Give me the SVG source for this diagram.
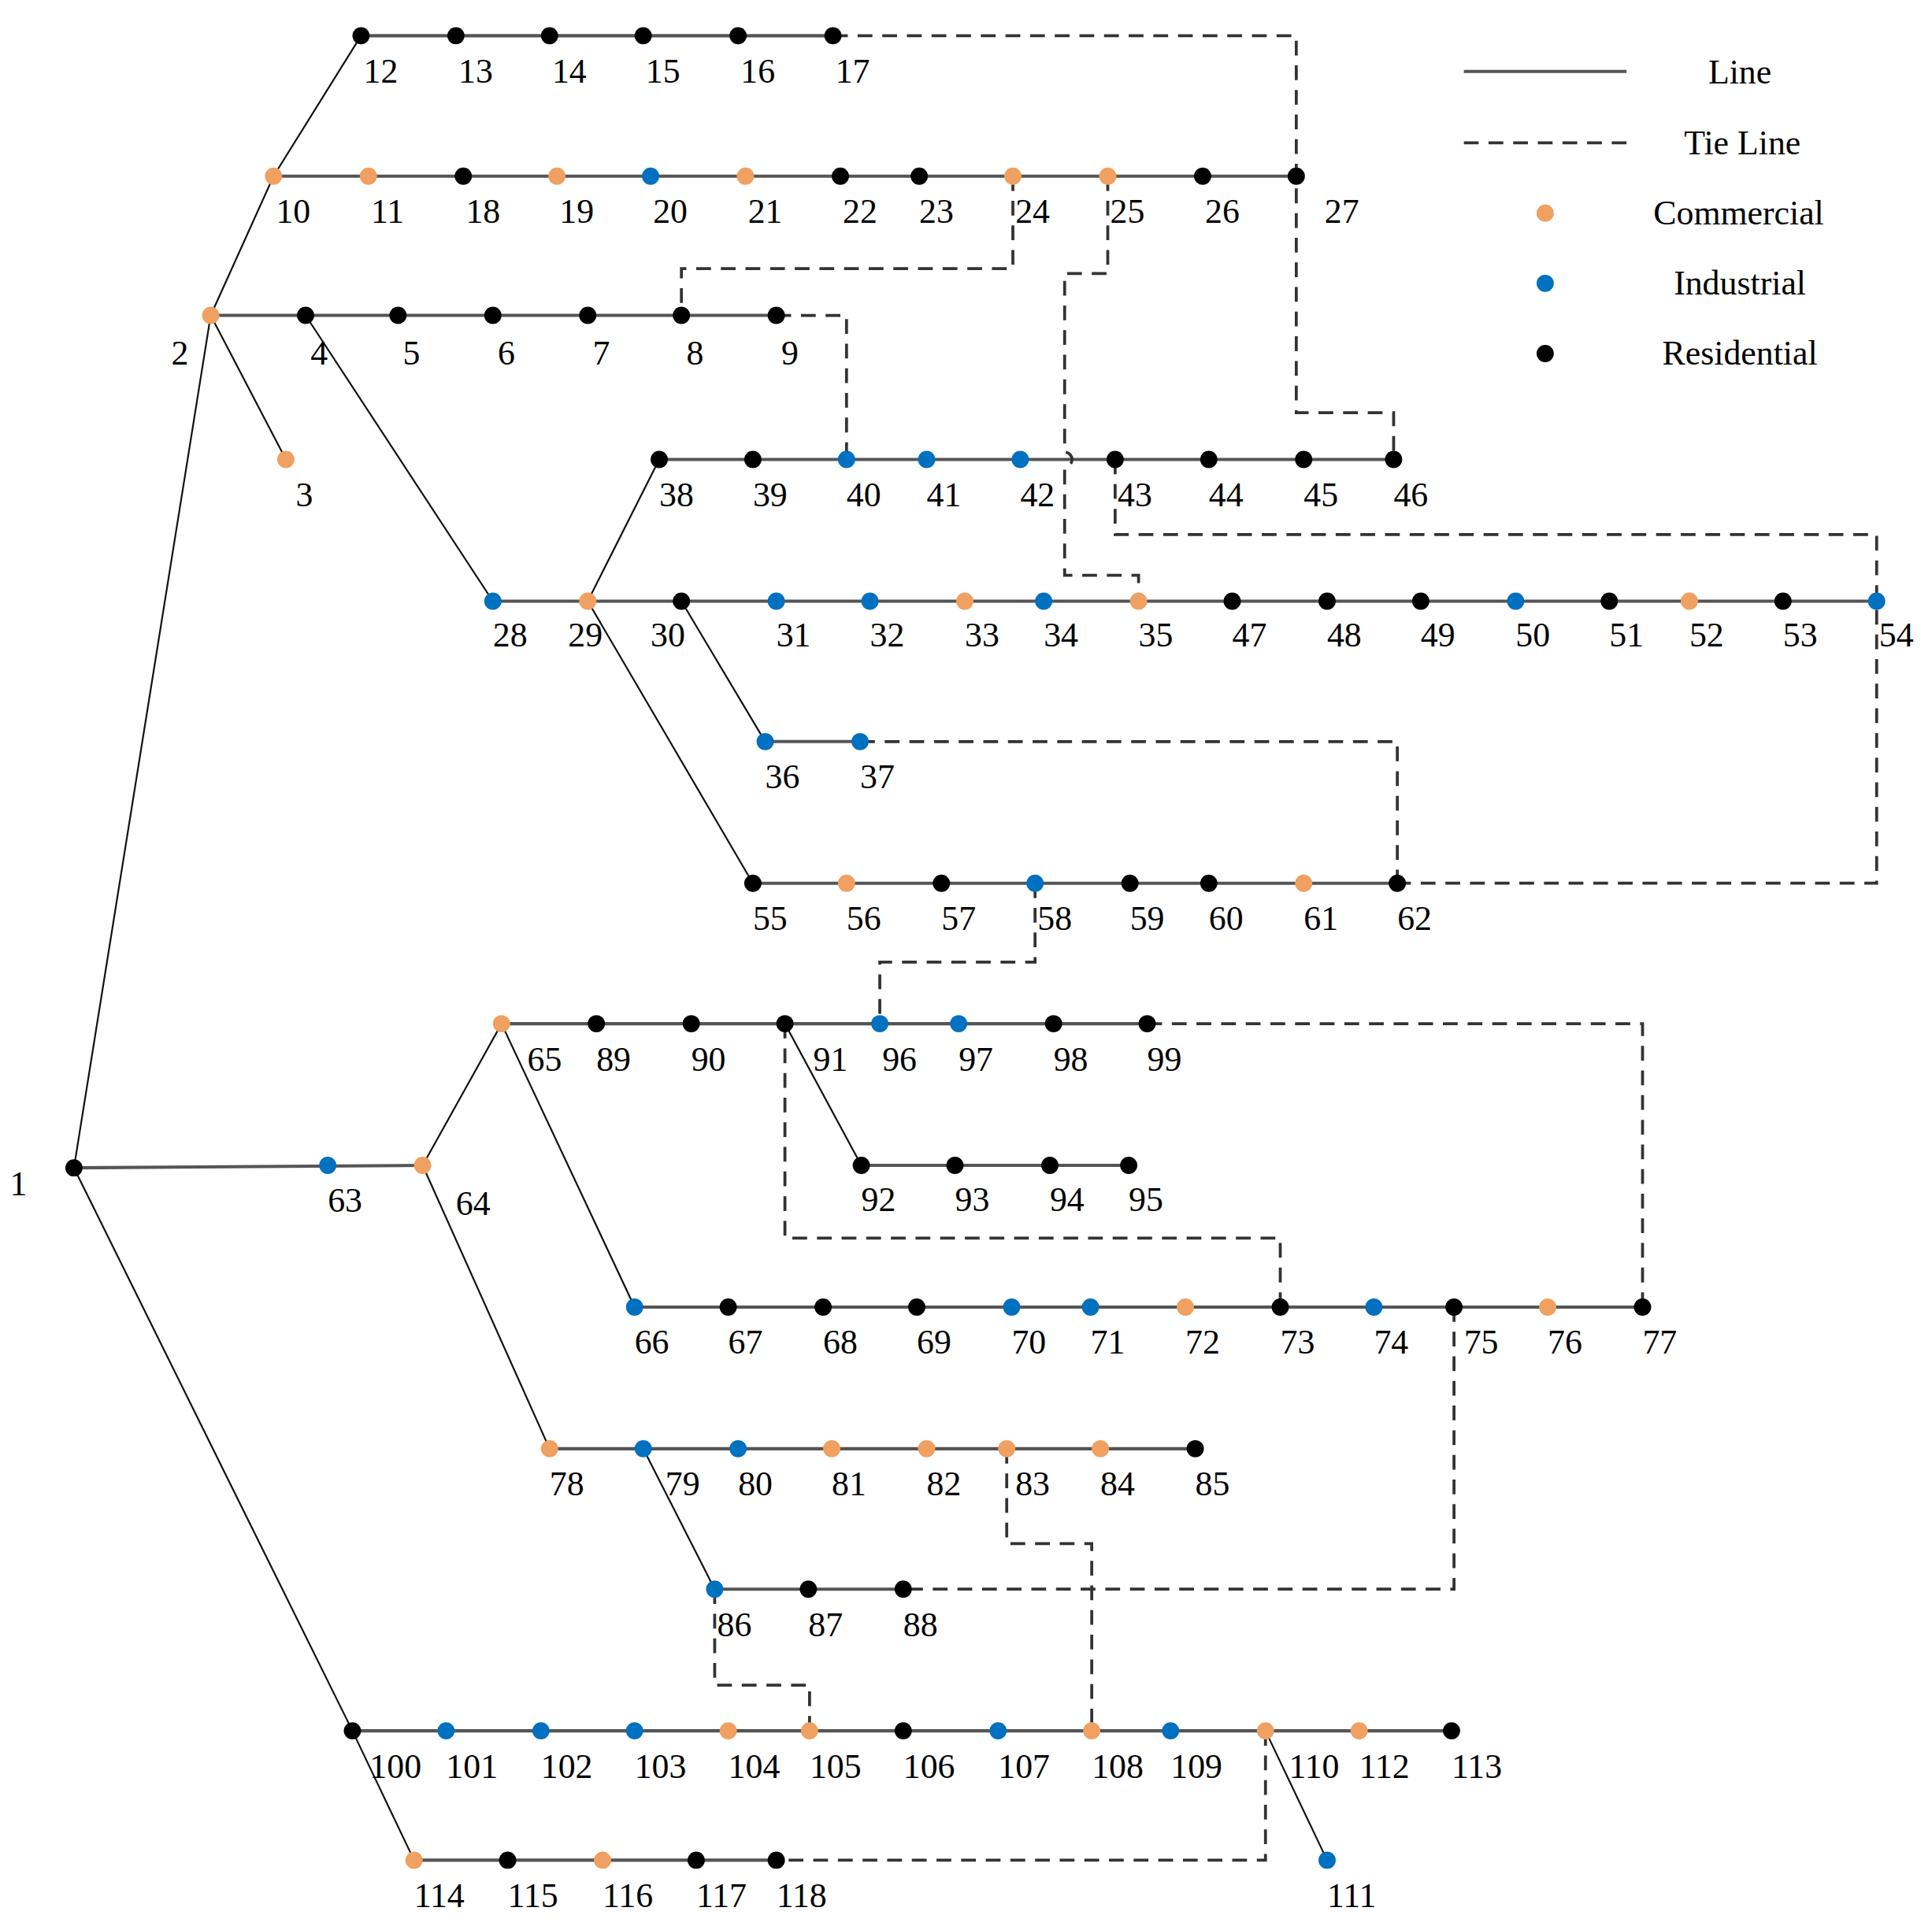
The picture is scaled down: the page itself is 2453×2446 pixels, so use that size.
<svg xmlns="http://www.w3.org/2000/svg" width="2453" height="2446" viewBox="0 0 2453 2446">
<style>
.r{stroke:#555;stroke-width:2.6;fill:none}
.d{stroke:#111;stroke-width:1.4;fill:none}
.t{stroke:#333;stroke-width:2.4;fill:none;stroke-dasharray:12 8}
.c{fill:#F0A060}.i{fill:#0070C0}.k{fill:#000}
text{font-family:"Liberation Serif","Times New Roman",serif;font-size:28px;fill:#000}
</style>
<rect width="2453" height="2446" fill="#fff"/>
<g transform="scale(1.5645)">
<g id="connectors">
<path class="r" d="M293,29H676M222,143H1052M171,256H630M535,373H1131M400,488H1523M621,602H698M611,717H1134M407,831H931M699,946H916M60,948L343,946M515,1061H1333M446,1176H970M580,1290H733M286,1405H1178M336,1510H630"/>
<path class="d" d="M60,948L171,256M171,256L222,143L293,29M171,256L232,373M248,256L400,488M477,488L535,373M477,488L611,717M553,488L621,602M343,946L407,831L515,1061M637,831L699,946M343,946L446,1176M522,1176L580,1290M60,948L286,1405L336,1510M1027,1405L1077,1510"/>
<path class="t" d="M676,29H1052V335H1131V373"/>
<path class="t" d="M822,143V218H553V256"/>
<path class="t" d="M899,143V222H864V367A5,5 0 0 1 864,379V467H924V488"/>
<path class="t" d="M630,256H687V373"/>
<path class="t" d="M905,373V434H1523V717H1134"/>
<path class="t" d="M698,602H1134V717"/>
<path class="t" d="M840,717V781H714V831"/>
<path class="t" d="M931,831H1333V1061"/>
<path class="t" d="M637,831V1005H1039V1061"/>
<path class="t" d="M1180,1061V1290H733"/>
<path class="t" d="M817,1176V1253H886V1405"/>
<path class="t" d="M580,1290V1368H657V1405"/>
<path class="t" d="M1027,1405V1510H630"/>
</g>
<g id="nodes">
<g id="n1"><circle class="k" cx="60" cy="948" r="7"/><text x="8" y="970">1</text></g>
<g id="n2"><circle class="c" cx="171" cy="256" r="7"/><text x="139" y="296">2</text></g>
<g id="n3"><circle class="c" cx="232" cy="373" r="7"/><text x="240" y="411">3</text></g>
<g id="n4"><circle class="k" cx="248" cy="256" r="7"/><text x="252" y="296">4</text></g>
<g id="n5"><circle class="k" cx="323" cy="256" r="7"/><text x="327" y="296">5</text></g>
<g id="n6"><circle class="k" cx="400" cy="256" r="7"/><text x="404" y="296">6</text></g>
<g id="n7"><circle class="k" cx="477" cy="256" r="7"/><text x="481" y="296">7</text></g>
<g id="n8"><circle class="k" cx="553" cy="256" r="7"/><text x="557" y="296">8</text></g>
<g id="n9"><circle class="k" cx="630" cy="256" r="7"/><text x="634" y="296">9</text></g>
<g id="n10"><circle class="c" cx="222" cy="143" r="7"/><text x="224" y="181">10</text></g>
<g id="n11"><circle class="c" cx="299" cy="143" r="7"/><text x="301" y="181">11</text></g>
<g id="n12"><circle class="k" cx="293" cy="29" r="7"/><text x="295" y="67">12</text></g>
<g id="n13"><circle class="k" cx="370" cy="29" r="7"/><text x="372" y="67">13</text></g>
<g id="n14"><circle class="k" cx="446" cy="29" r="7"/><text x="448" y="67">14</text></g>
<g id="n15"><circle class="k" cx="522" cy="29" r="7"/><text x="524" y="67">15</text></g>
<g id="n16"><circle class="k" cx="599" cy="29" r="7"/><text x="601" y="67">16</text></g>
<g id="n17"><circle class="k" cx="676" cy="29" r="7"/><text x="678" y="67">17</text></g>
<g id="n18"><circle class="k" cx="376" cy="143" r="7"/><text x="378" y="181">18</text></g>
<g id="n19"><circle class="c" cx="452" cy="143" r="7"/><text x="454" y="181">19</text></g>
<g id="n20"><circle class="i" cx="528" cy="143" r="7"/><text x="530" y="181">20</text></g>
<g id="n21"><circle class="c" cx="605" cy="143" r="7"/><text x="607" y="181">21</text></g>
<g id="n22"><circle class="k" cx="682" cy="143" r="7"/><text x="684" y="181">22</text></g>
<g id="n23"><circle class="k" cx="746" cy="143" r="7"/><text x="746" y="181">23</text></g>
<g id="n24"><circle class="c" cx="822" cy="143" r="7"/><text x="824" y="181">24</text></g>
<g id="n25"><circle class="c" cx="899" cy="143" r="7"/><text x="901" y="181">25</text></g>
<g id="n26"><circle class="k" cx="976" cy="143" r="7"/><text x="978" y="181">26</text></g>
<g id="n27"><circle class="k" cx="1052" cy="143" r="7"/><text x="1075" y="181">27</text></g>
<g id="n28"><circle class="i" cx="400" cy="488" r="7"/><text x="400" y="525">28</text></g>
<g id="n29"><circle class="c" cx="477" cy="488" r="7"/><text x="461" y="525">29</text></g>
<g id="n30"><circle class="k" cx="553" cy="488" r="7"/><text x="528" y="525">30</text></g>
<g id="n31"><circle class="i" cx="630" cy="488" r="7"/><text x="630" y="525">31</text></g>
<g id="n32"><circle class="i" cx="706" cy="488" r="7"/><text x="706" y="525">32</text></g>
<g id="n33"><circle class="c" cx="783" cy="488" r="7"/><text x="783" y="525">33</text></g>
<g id="n34"><circle class="i" cx="847" cy="488" r="7"/><text x="847" y="525">34</text></g>
<g id="n35"><circle class="c" cx="924" cy="488" r="7"/><text x="924" y="525">35</text></g>
<g id="n36"><circle class="i" cx="621" cy="602" r="7"/><text x="621" y="640">36</text></g>
<g id="n37"><circle class="i" cx="698" cy="602" r="7"/><text x="698" y="640">37</text></g>
<g id="n38"><circle class="k" cx="535" cy="373" r="7"/><text x="535" y="411">38</text></g>
<g id="n39"><circle class="k" cx="611" cy="373" r="7"/><text x="611" y="411">39</text></g>
<g id="n40"><circle class="i" cx="687" cy="373" r="7"/><text x="687" y="411">40</text></g>
<g id="n41"><circle class="i" cx="752" cy="373" r="7"/><text x="752" y="411">41</text></g>
<g id="n42"><circle class="i" cx="828" cy="373" r="7"/><text x="828" y="411">42</text></g>
<g id="n43"><circle class="k" cx="905" cy="373" r="7"/><text x="907" y="411">43</text></g>
<g id="n44"><circle class="k" cx="981" cy="373" r="7"/><text x="981" y="411">44</text></g>
<g id="n45"><circle class="k" cx="1058" cy="373" r="7"/><text x="1058" y="411">45</text></g>
<g id="n46"><circle class="k" cx="1131" cy="373" r="7"/><text x="1131" y="411">46</text></g>
<g id="n47"><circle class="k" cx="1000" cy="488" r="7"/><text x="1000" y="525">47</text></g>
<g id="n48"><circle class="k" cx="1077" cy="488" r="7"/><text x="1077" y="525">48</text></g>
<g id="n49"><circle class="k" cx="1153" cy="488" r="7"/><text x="1153" y="525">49</text></g>
<g id="n50"><circle class="i" cx="1230" cy="488" r="7"/><text x="1230" y="525">50</text></g>
<g id="n51"><circle class="k" cx="1306" cy="488" r="7"/><text x="1306" y="525">51</text></g>
<g id="n52"><circle class="c" cx="1371" cy="488" r="7"/><text x="1371" y="525">52</text></g>
<g id="n53"><circle class="k" cx="1447" cy="488" r="7"/><text x="1447" y="525">53</text></g>
<g id="n54"><circle class="i" cx="1523" cy="488" r="7"/><text x="1525" y="525">54</text></g>
<g id="n55"><circle class="k" cx="611" cy="717" r="7"/><text x="611" y="755">55</text></g>
<g id="n56"><circle class="c" cx="687" cy="717" r="7"/><text x="687" y="755">56</text></g>
<g id="n57"><circle class="k" cx="764" cy="717" r="7"/><text x="764" y="755">57</text></g>
<g id="n58"><circle class="i" cx="840" cy="717" r="7"/><text x="842" y="755">58</text></g>
<g id="n59"><circle class="k" cx="917" cy="717" r="7"/><text x="917" y="755">59</text></g>
<g id="n60"><circle class="k" cx="981" cy="717" r="7"/><text x="981" y="755">60</text></g>
<g id="n61"><circle class="c" cx="1058" cy="717" r="7"/><text x="1058" y="755">61</text></g>
<g id="n62"><circle class="k" cx="1134" cy="717" r="7"/><text x="1134" y="755">62</text></g>
<g id="n63"><circle class="i" cx="266" cy="946" r="7"/><text x="266" y="984">63</text></g>
<g id="n64"><circle class="c" cx="343" cy="946" r="7"/><text x="370" y="986">64</text></g>
<g id="n65"><circle class="c" cx="407" cy="831" r="7"/><text x="428" y="869">65</text></g>
<g id="n66"><circle class="i" cx="515" cy="1061" r="7"/><text x="515" y="1099">66</text></g>
<g id="n67"><circle class="k" cx="591" cy="1061" r="7"/><text x="591" y="1099">67</text></g>
<g id="n68"><circle class="k" cx="668" cy="1061" r="7"/><text x="668" y="1099">68</text></g>
<g id="n69"><circle class="k" cx="744" cy="1061" r="7"/><text x="744" y="1099">69</text></g>
<g id="n70"><circle class="i" cx="821" cy="1061" r="7"/><text x="821" y="1099">70</text></g>
<g id="n71"><circle class="i" cx="885" cy="1061" r="7"/><text x="885" y="1099">71</text></g>
<g id="n72"><circle class="c" cx="962" cy="1061" r="7"/><text x="962" y="1099">72</text></g>
<g id="n73"><circle class="k" cx="1039" cy="1061" r="7"/><text x="1039" y="1099">73</text></g>
<g id="n74"><circle class="i" cx="1115" cy="1061" r="7"/><text x="1115" y="1099">74</text></g>
<g id="n75"><circle class="k" cx="1180" cy="1061" r="7"/><text x="1188" y="1099">75</text></g>
<g id="n76"><circle class="c" cx="1256" cy="1061" r="7"/><text x="1256" y="1099">76</text></g>
<g id="n77"><circle class="k" cx="1333" cy="1061" r="7"/><text x="1333" y="1099">77</text></g>
<g id="n78"><circle class="c" cx="446" cy="1176" r="7"/><text x="446" y="1214">78</text></g>
<g id="n79"><circle class="i" cx="522" cy="1176" r="7"/><text x="540" y="1214">79</text></g>
<g id="n80"><circle class="i" cx="599" cy="1176" r="7"/><text x="599" y="1214">80</text></g>
<g id="n81"><circle class="c" cx="675" cy="1176" r="7"/><text x="675" y="1214">81</text></g>
<g id="n82"><circle class="c" cx="752" cy="1176" r="7"/><text x="752" y="1214">82</text></g>
<g id="n83"><circle class="c" cx="817" cy="1176" r="7"/><text x="824" y="1214">83</text></g>
<g id="n84"><circle class="c" cx="893" cy="1176" r="7"/><text x="893" y="1214">84</text></g>
<g id="n85"><circle class="k" cx="970" cy="1176" r="7"/><text x="970" y="1214">85</text></g>
<g id="n86"><circle class="i" cx="580" cy="1290" r="7"/><text x="582" y="1328">86</text></g>
<g id="n87"><circle class="k" cx="656" cy="1290" r="7"/><text x="656" y="1328">87</text></g>
<g id="n88"><circle class="k" cx="733" cy="1290" r="7"/><text x="733" y="1328">88</text></g>
<g id="n89"><circle class="k" cx="484" cy="831" r="7"/><text x="484" y="869">89</text></g>
<g id="n90"><circle class="k" cx="561" cy="831" r="7"/><text x="561" y="869">90</text></g>
<g id="n91"><circle class="k" cx="637" cy="831" r="7"/><text x="660" y="869">91</text></g>
<g id="n92"><circle class="k" cx="699" cy="946" r="7"/><text x="699" y="983">92</text></g>
<g id="n93"><circle class="k" cx="775" cy="946" r="7"/><text x="775" y="983">93</text></g>
<g id="n94"><circle class="k" cx="852" cy="946" r="7"/><text x="852" y="983">94</text></g>
<g id="n95"><circle class="k" cx="916" cy="946" r="7"/><text x="916" y="983">95</text></g>
<g id="n96"><circle class="i" cx="714" cy="831" r="7"/><text x="716" y="869">96</text></g>
<g id="n97"><circle class="i" cx="778" cy="831" r="7"/><text x="778" y="869">97</text></g>
<g id="n98"><circle class="k" cx="855" cy="831" r="7"/><text x="855" y="869">98</text></g>
<g id="n99"><circle class="k" cx="931" cy="831" r="7"/><text x="931" y="869">99</text></g>
<g id="n100"><circle class="k" cx="286" cy="1405" r="7"/><text x="300" y="1443">100</text></g>
<g id="n101"><circle class="i" cx="362" cy="1405" r="7"/><text x="362" y="1443">101</text></g>
<g id="n102"><circle class="i" cx="439" cy="1405" r="7"/><text x="439" y="1443">102</text></g>
<g id="n103"><circle class="i" cx="515" cy="1405" r="7"/><text x="515" y="1443">103</text></g>
<g id="n104"><circle class="c" cx="591" cy="1405" r="7"/><text x="591" y="1443">104</text></g>
<g id="n105"><circle class="c" cx="657" cy="1405" r="7"/><text x="657" y="1443">105</text></g>
<g id="n106"><circle class="k" cx="733" cy="1405" r="7"/><text x="733" y="1443">106</text></g>
<g id="n107"><circle class="i" cx="810" cy="1405" r="7"/><text x="810" y="1443">107</text></g>
<g id="n108"><circle class="c" cx="886" cy="1405" r="7"/><text x="886" y="1443">108</text></g>
<g id="n109"><circle class="i" cx="950" cy="1405" r="7"/><text x="950" y="1443">109</text></g>
<g id="n110"><circle class="c" cx="1027" cy="1405" r="7"/><text x="1046" y="1443">110</text></g>
<g id="n111"><circle class="i" cx="1077" cy="1510" r="7"/><text x="1077" y="1548">111</text></g>
<g id="n112"><circle class="c" cx="1103" cy="1405" r="7"/><text x="1103" y="1443">112</text></g>
<g id="n113"><circle class="k" cx="1178" cy="1405" r="7"/><text x="1178" y="1443">113</text></g>
<g id="n114"><circle class="c" cx="336" cy="1510" r="7"/><text x="336" y="1548">114</text></g>
<g id="n115"><circle class="k" cx="412" cy="1510" r="7"/><text x="412" y="1548">115</text></g>
<g id="n116"><circle class="c" cx="489" cy="1510" r="7"/><text x="489" y="1548">116</text></g>
<g id="n117"><circle class="k" cx="565" cy="1510" r="7"/><text x="565" y="1548">117</text></g>
<g id="n118"><circle class="k" cx="630" cy="1510" r="7"/><text x="630" y="1548">118</text></g>
</g>
<g id="legend" text-anchor="middle">
<line class="r" x1="1188" y1="58" x2="1320" y2="58"/>
<line class="t" x1="1188" y1="116" x2="1320" y2="116"/>
<text x="1412" y="68">Line</text>
<text x="1414" y="125">Tie  Line</text>
<circle class="c" cx="1254" cy="173" r="7"/><text x="1411" y="182">Commercial</text>
<circle class="i" cx="1254" cy="230" r="7"/><text x="1412" y="239">Industrial</text>
<circle class="k" cx="1254" cy="287" r="7"/><text x="1412" y="296">Residential</text>
</g>
</g>
</svg>
